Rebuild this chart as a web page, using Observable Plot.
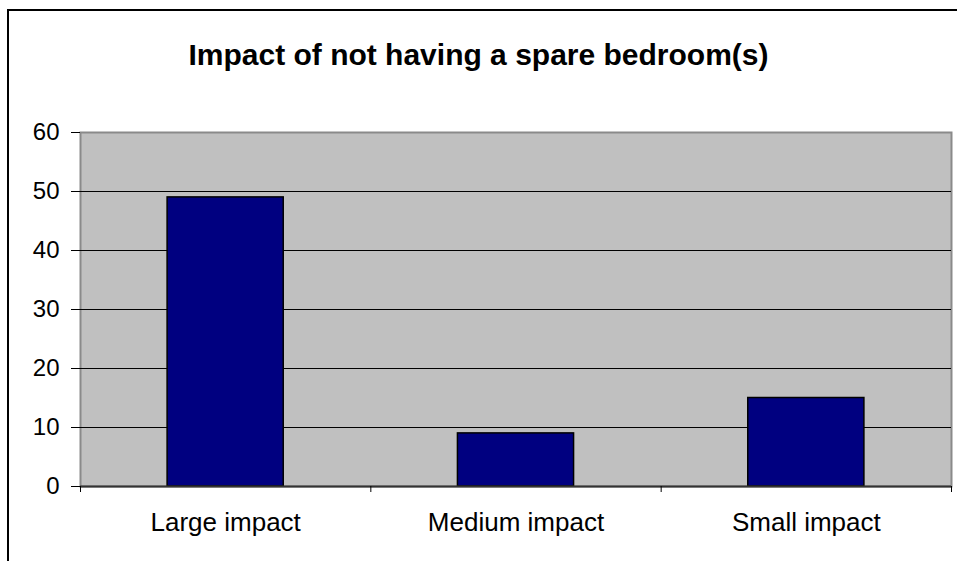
<!DOCTYPE html>
<html>
<head>
<meta charset="utf-8">
<script src="https://cdn.jsdelivr.net/npm/d3@7"></script>
<script src="https://cdn.jsdelivr.net/npm/@observablehq/plot@0.6"></script>
<style>
  html, body { margin: 0; padding: 0; background: #fff; }
  body { width: 957px; height: 561px; position: relative; overflow: hidden; font-family: "Liberation Sans", Arial, sans-serif; }
  #frame { position: absolute; left: 7px; top: 9px; width: 1000px; height: 600px; border-left: 2px solid #000; border-top: 2px solid #000; }
  #title { position: absolute; left: 0; top: 40px; width: 957px; text-align: center; font-size: 30px; line-height: 1; font-weight: bold; color: #000; }
  #chart { position: absolute; left: 0; top: 0; }
</style>
</head>
<body>
<div id="frame"></div>
<div id="title">Impact of not having a spare bedroom(s)</div>
<div id="chart"></div>
<script>
const categories = ["Large impact", "Medium impact", "Small impact"];
const values = [49, 9, 15];
const yTicks = [0, 10, 20, 30, 40, 50, 60];
const gridValues = [10, 20, 30, 40, 50];

const data = categories.map((c, i) => ({category: c, value: values[i], i}));
const boundaries = d3.range(categories.length + 1);

const chart = Plot.plot({
  width: 957,
  height: 561,
  marginLeft: 80,
  marginTop: 132,
  marginRight: 6,
  marginBottom: 75,
  style: {fontFamily: "'Liberation Sans', Arial, sans-serif", background: "transparent", color: "#000"},
  x: {type: "linear", domain: [0, categories.length]},
  y: {domain: [0, 60]},
  marks: [
    Plot.frame({fill: "#c0c0c0", stroke: "#8a8a8a", strokeWidth: 2}),
    Plot.ruleY(gridValues, {stroke: "#000", strokeWidth: 1}),
    Plot.rectY(data, {x1: d => d.i + 0.3, x2: d => d.i + 0.7, y: "value", fill: "#000080", stroke: "#000", strokeWidth: 1.5}),
    Plot.ruleY([0], {stroke: "#333", strokeWidth: 2}),
    Plot.axisY({ticks: yTicks, tickSize: 9, tickPadding: 12, fontSize: 24, stroke: "#000", label: null, tickFormat: d3.format("d")}),
    Plot.axisX({ticks: boundaries, tickSize: 6, tickFormat: () => "", stroke: "#000", label: null}),
    Plot.text(data, {x: d => d.i + 0.5, y: 0, text: "category", dy: 36, fontSize: 26, fill: "#000"})
  ]
});
document.getElementById("chart").appendChild(chart);
</script>
</body>
</html>
